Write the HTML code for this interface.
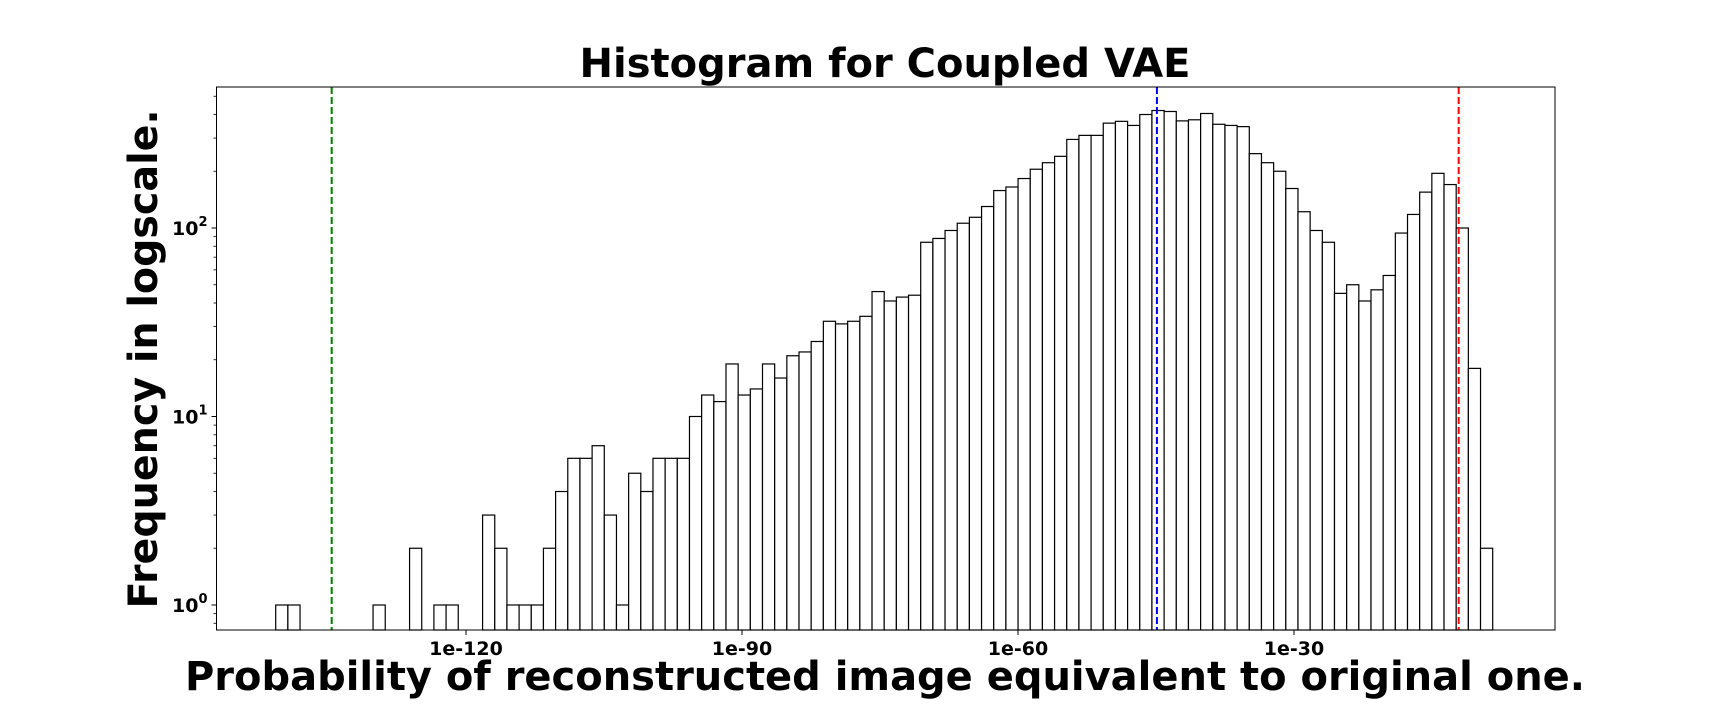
<!DOCTYPE html>
<html><head><meta charset="utf-8"><style>
html,body{margin:0;padding:0;background:#fff;width:1728px;height:720px;overflow:hidden}
text{font-family:"DejaVu Sans","Liberation Sans",sans-serif;font-weight:bold;fill:#000}
</style></head><body>
<svg id="chart" width="1728" height="720" xmlns="http://www.w3.org/2000/svg">
<rect x="0" y="0" width="1728" height="720" fill="#fff"/>
<text x="885" y="77" font-size="40" text-anchor="middle" textLength="611" lengthAdjust="spacingAndGlyphs">Histogram for Coupled VAE</text>
<text x="885" y="690" font-size="40" text-anchor="middle" textLength="1400" lengthAdjust="spacingAndGlyphs">Probability of reconstructed image equivalent to original one.</text>
<text transform="translate(157,359) rotate(-90)" font-size="40" text-anchor="middle" textLength="499" lengthAdjust="spacingAndGlyphs">Frequency in logscale.</text>
<g id="plot"></g>
</svg>
<script>
const counts = [1,1,0,0,0,0,0,0,1,0,0,2,0,1,1,0,0,3,2,1,1,1,2,4,6,6,7,3,1,5,4,6,6,6,10,13,12,19,13,14,19,16,21,22,25,32,31,32,34,46,41,43,44,84,88,97,106,114,130,158,165,183,205,222,240,295,310,310,360,368,350,400,420,415,370,375,405,355,350,345,248,222,200,162,122,97,84,45,50,41,47,56,94,118,155,195,170,100,18,2];
const xTickExps = [-120,-90,-60,-30];
const xTickLabels = ["1e-120","1e-90","1e-60","1e-30"];
const yTickExps = [0,1,2];
const vlineExps = [-134.6,-44.9,-12.1];
const vlineColors = ["#008000","#0000ff","#ff0000"];
const vlineNames = ["green-threshold-line","blue-median-line","red-threshold-line"];
const binWidthExp = 12.17/9.2;

const L=216.5,R=1555,T=87,B=630;
const xs = e => 1294 + (e+30)*9.2;
const ys = c => 605 - Math.log10(c)*188.5;
const ns="http://www.w3.org/2000/svg";
const g=document.getElementById('plot');
function mk(tag,attrs){const e=document.createElementNS(ns,tag);for(const k in attrs)e.setAttribute(k,attrs[k]);g.appendChild(e);return e;}
const firstEdge = -120 - (468-277.7)/9.2;
counts.forEach((c,i)=>{
  if(c<=0) return;
  const x0=xs(firstEdge+i*binWidthExp), x1=xs(firstEdge+(i+1)*binWidthExp);
  const y=ys(c);
  const r=mk('rect',{x:x0,y:y,width:x1-x0,height:B-y,fill:'#fff',stroke:'#000','stroke-width':1.2});
  
  
});
vlineExps.forEach((e,i)=>{
  const l=mk('line',{x1:xs(e),x2:xs(e),y1:T,y2:B,stroke:vlineColors[i],'stroke-width':2,'stroke-dasharray':'7,3'});
  
  
});
const fr=mk('rect',{x:L,y:T,width:R-L,height:B-T,fill:'none',stroke:'#000','stroke-width':1});


xTickExps.forEach((e,i)=>{
  const x=xs(e);
  const t=mk('line',{x1:x,x2:x,y1:B,y2:B+5,stroke:'#000','stroke-width':1});
  
  
  const tx=mk('text',{x:x,y:B+25,'font-size':19,'text-anchor':'middle'});
  tx.textContent=xTickLabels[i];
  
  
});
yTickExps.forEach(p=>{
  const y=ys(Math.pow(10,p));
  const t=mk('line',{x1:L-5,x2:L,y1:y,y2:y,stroke:'#000','stroke-width':1});
  
  
  const tx=mk('text',{x:L-9,y:y+7,'font-size':19,'text-anchor':'end'});
  tx.innerHTML='10<tspan font-size="13" dy="-9">'+p+'</tspan>';
  
  
  for(let m=2;m<10;m++){
    const v=Math.pow(10,p)*m, yy=ys(v);
    if(yy<T||yy>B) continue;
    const mt=mk('line',{x1:L-3,x2:L,y1:yy,y2:yy,stroke:'#000','stroke-width':0.8});
    
    
  }
});
for(let m=2;m<10;m++){const yy=ys(m*0.1); if(yy<=B&&yy>=T){const mt=mk('line',{x1:L-3,x2:L,y1:yy,y2:yy,stroke:'#000','stroke-width':0.8});

}}
</script>
</body></html>
